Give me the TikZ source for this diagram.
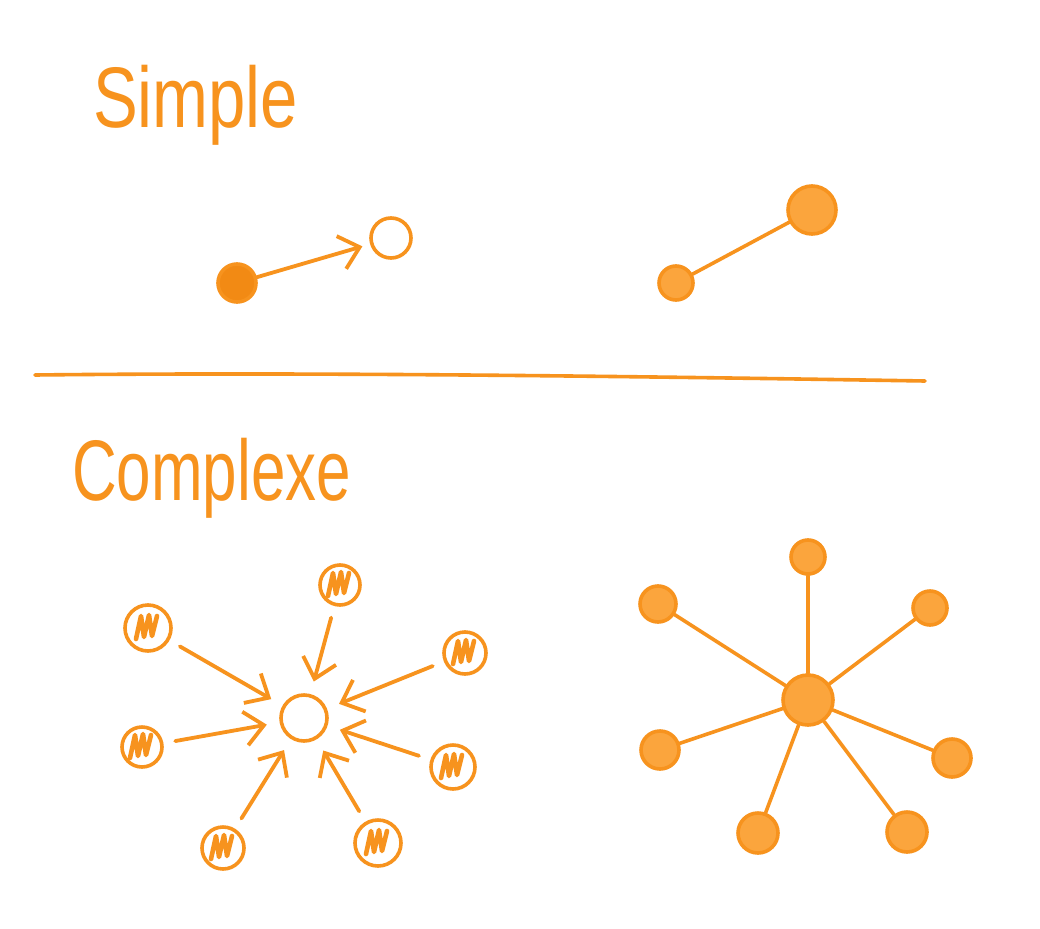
\documentclass[tikz,border=0pt]{standalone}
\usepackage{fontspec}
\setmainfont{Liberation Sans}
\usetikzlibrary{arrows.meta}
\definecolor{org}{HTML}{F7931E}
\definecolor{orgl}{HTML}{FBA53D}
\definecolor{orgd}{HTML}{F28A14}
\tikzset{
  dot/.style={circle, inner sep=0pt, draw=org, line width=3.6pt},
  hollow/.style={dot, fill=white},
  solidc/.style={dot, fill=orgd},
  soft/.style={dot, fill=orgl},
  hatch/.style={dot, fill=white, path picture={
     \draw[org, line width=4.6pt, line join=round, line cap=round]
       ([shift={(-12,11)}]path picture bounding box.center) -- ++(5,-23) -- ++(3,21)
       -- ++(5,-22) -- ++(3,21) -- ++(5,-20);}},
  arr/.style={draw=org, line width=3.8pt, line cap=round,
     -{Straight Barb[length=19pt,width=34pt]}},
  link/.style={draw=org, line width=3.6pt, line cap=round},
  title/.style={anchor=base west, text=org, inner sep=0pt,
     font=\fontsize{86}{86}\selectfont}
}
\begin{document}
\begin{tikzpicture}[x=1pt,y=-1pt]
\fill[white] (0,0) rectangle (1040,928);
\useasboundingbox (0,0) rectangle (1040,928);

% titles
\node[title, xscale=0.78] (t1) at (93,128) {Simple};
\node[title, xscale=0.72] (t2) at (72,500) {Complexe};

% separator
\coordinate (l1) at (35,375);
\coordinate (l2) at (925,381);
\draw[link] (l1) .. controls (300,372) and (620,376) .. (l2);

% simple, directed
\node[solidc, minimum size=38pt] (s1) at (237,283) {};
\node[hollow, minimum size=40pt] (s2) at (391,238) {};
\draw[arr, shorten >=8pt] (s1) -- (s2);

% simple, undirected
\node[soft, minimum size=34pt] (s3) at (676,283) {};
\node[soft, minimum size=48pt] (s4) at (812,210) {};
\draw[link] (s3) -- (s4);

% complex, directed
\node[hollow, minimum size=46pt] (c) at (304,718) {};
\node[hatch, minimum size=40pt] (a1) at (340,585) {};
\node[hatch, minimum size=46pt] (a2) at (148,628) {};
\node[hatch, minimum size=42pt] (a3) at (465,653) {};
\node[hatch, minimum size=40pt] (a4) at (142,747) {};
\node[hatch, minimum size=44pt] (a5) at (453,767) {};
\node[hatch, minimum size=42pt] (a6) at (223,848) {};
\node[hatch, minimum size=46pt] (a7) at (378,843) {};
\foreach \n in {a1,a2,a3,a4,a5,a6,a7}
  \draw[arr, shorten <=12pt, shorten >=13pt] (\n) -- (c);

% complex, undirected
\node[soft, minimum size=50pt] (h) at (808,700) {};
\node[soft, minimum size=34pt] (b1) at (808,557) {};
\node[soft, minimum size=36pt] (b2) at (658,604) {};
\node[soft, minimum size=34pt] (b3) at (930,608) {};
\node[soft, minimum size=38pt] (b4) at (660,750) {};
\node[soft, minimum size=38pt] (b5) at (952,758) {};
\node[soft, minimum size=40pt] (b6) at (758,833) {};
\node[soft, minimum size=40pt] (b7) at (907,832) {};
\foreach \n in {b1,b2,b3,b4,b5,b6,b7}
  \draw[link] (h) -- (\n);
\end{tikzpicture}
\end{document}
